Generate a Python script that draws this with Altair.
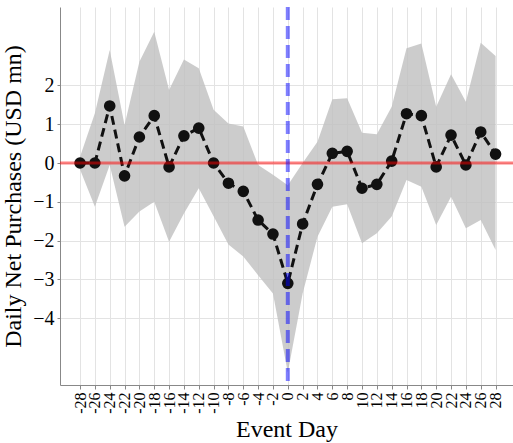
import altair as alt
import pandas as pd

days = list(range(-28, 29, 2))
mean = [0, 0, 1.47, -0.33, 0.67, 1.22, -0.1, 0.7, 0.9, 0, -0.52, -0.73,
        -1.47, -1.83, -3.1,
        -1.57, -0.55, 0.25, 0.3, -0.65, -0.55, 0.05, 1.27, 1.22, -0.1, 0.72, -0.05, 0.8, 0.23]
upper = [0.16, 1.28, 2.91, 0.98, 2.61, 3.38, 1.88, 2.67, 2.44, 1.37, 1.02, 0.94,
         -0.05, -0.3, -0.57,
         0.0, 0.55, 1.64, 1.67, 0.78, 0.74, 1.45, 2.96, 3.08, 1.45, 2.29, 1.58, 3.1, 2.76]
lower = [-0.17, -1.13, -0.05, -1.64, -1.25, -1.0, -2.03, -1.3, -0.65, -1.37, -2.1, -2.41,
         -2.89, -3.36, -5.4,
         -3.36, -1.9, -1.13, -1.06, -2.07, -1.81, -1.38, -0.44, -0.61, -1.6, -0.87, -1.68, -1.47, -2.24]
y_ticks = [-4, -3, -2, -1, 0, 1, 2]
event_day = [0]
zero_level = [0]

df = pd.DataFrame({"day": days, "mean": mean, "hi": upper, "lo": lower})
ref_df = pd.DataFrame({"day": event_day, "mean": zero_level})

FONT = "Liberation Serif"

xscale = alt.Scale(domain=[-30.7, 30.35], nice=False, zero=False)
yscale = alt.Scale(domain=[-5.72, 4.02], nice=False, zero=False)

xaxis = alt.Axis(
    values=days, labelAngle=-90, labelFont=FONT, labelFontSize=16, labelColor="black",
    labelOverlap=False, labelSeparation=0, labelPadding=3,
    labelExpr="datum.value < 0 ? '-' + abs(datum.value) : '' + datum.value",
    grid=True, gridColor="#e3e3e3", domainColor="#888888", tickColor="#888888", tickSize=4,
    titleFont=FONT, titleFontSize=24, titleFontWeight="normal", titleColor="black",
    titlePadding=4,
)
yaxis = alt.Axis(
    values=y_ticks, labelFont=FONT, labelFontSize=20, labelColor="black",
    labelExpr="datum.value < 0 ? '\u2212' + abs(datum.value) : '' + datum.value",
    grid=True, gridColor="#e3e3e3", domainColor="#888888", tickColor="#888888", tickSize=3,
    labelPadding=3,
    titleFont=FONT, titleFontSize=24, titleFontWeight="normal",
    titleColor="black", titlePadding=7,
)

X = alt.X("day:Q", scale=xscale, axis=xaxis, title="Event Day")
Y = alt.Y("mean:Q", scale=yscale, axis=yaxis, title="Daily Net Purchases (USD mn)")
YLO = alt.Y("lo:Q", scale=yscale, axis=yaxis, title="Daily Net Purchases (USD mn)")

base = alt.Chart(df)
band = base.mark_area(color="#bfbfbf", opacity=0.8).encode(x=X, y=YLO, y2="hi:Q")
line = base.mark_line(color="#111111", strokeDash=[9, 5], strokeWidth=3).encode(x=X, y=Y)
pts = base.mark_circle(size=135, color="#111111", opacity=1).encode(x=X, y=Y)
hline = alt.Chart(ref_df).mark_rule(color="red", opacity=0.5, strokeWidth=3).encode(y=Y)
vline = alt.Chart(ref_df).mark_rule(color="blue", opacity=0.5, strokeWidth=4, strokeDash=[13, 6]).encode(x=X)

chart = alt.layer(band, line, pts, hline, vline).properties(
    width=453, height=378,
    autosize=alt.AutoSizeParams(type="none"),
    padding={"left": 60, "top": 7, "right": 0, "bottom": 58},
).configure(background="white", font=FONT).configure_view(stroke=None).configure_axis(
    labelFont=FONT, titleFont=FONT, labelOverlap=False
)

chart.save("out.html", embed_options={"renderer": "svg", "actions": False})
